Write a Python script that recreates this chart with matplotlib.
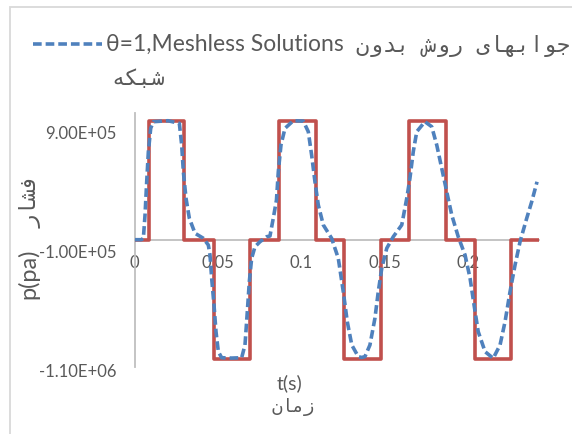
import matplotlib
matplotlib.use("Agg")
import matplotlib.pyplot as plt
from matplotlib.lines import Line2D
from matplotlib.patches import Rectangle
from matplotlib.transforms import ScaledTranslation

# exact (step) solution, time in s, pressure in Pa
t_exact = [0, 0.0086, 0.0298, 0.0478, 0.0692, 0.0866, 0.1086, 0.1256,
           0.1476, 0.1649, 0.1870, 0.2044, 0.2259, 0.2419]
p_exact = [-1e5, 9e5, -1e5, -1.1e6, -1e5, 9e5, -1e5, -1.1e6,
           -1e5, 9e5, -1e5, -1.1e6, -1e5, -1e5]

# meshless solution (theta = 1)
t_mls = [0, 0.0040, 0.0052, 0.0062, 0.0072, 0.0082, 0.0096, 0.0112, 0.0200,
         0.0268, 0.0282, 0.0292, 0.0308, 0.0328, 0.0362, 0.0412, 0.0442,
         0.0452, 0.0462, 0.0476, 0.0488, 0.0502, 0.0522, 0.0582, 0.0642,
         0.0662, 0.0676, 0.0688, 0.0702, 0.0722, 0.0752, 0.0792, 0.0812,
         0.0832, 0.0851, 0.0862, 0.0878, 0.0902, 0.0952, 0.1012, 0.1042,
         0.1062, 0.1082, 0.1102, 0.1132, 0.1182, 0.1222, 0.1252, 0.1276,
         0.1303, 0.1342, 0.1362, 0.1382, 0.1412, 0.1442, 0.1462, 0.1483,
         0.1513, 0.1552, 0.1603, 0.1633, 0.1652, 0.1672, 0.1693, 0.1742,
         0.1783, 0.1813, 0.1843, 0.1873, 0.1903, 0.1942, 0.1983, 0.2013,
         0.2037, 0.2062, 0.2103, 0.2152, 0.2193, 0.2223, 0.2253, 0.2283,
         0.2313, 0.2353, 0.2383, 0.2415]
p_mls = [-1.0e5, -1.0e5, -0.88e5, 1.08e5, 3.87e5, 6.39e5, 8.36e5, 8.92e5, 9.0e5,
         8.78e5, 6.96e5, 4.71e5, 2.48e5, 0.80e5, -0.46e5, -0.88e5, -1.45e5,
         -2.29e5, -4.24e5, -6.49e5, -8.73e5, -10.41e5, -10.92e5, -10.95e5, -10.92e5,
         -9.85e5, -7.05e5, -4.53e5, -2.56e5, -1.59e5, -1.17e5, -0.75e5, -0.69e5,
         0.82e5, 2.34e5, 4.71e5, 6.96e5, 8.36e5, 9.0e5, 8.97e5, 8.08e5,
         6.12e5, 3.87e5, 1.92e5, 0.24e5, -0.88e5, -2.56e5, -5.37e5, -7.89e5,
         -9.85e5, -10.83e5, -10.9e5, -10.83e5, -9.85e5, -7.6e5, -5.37e5, -3.4e5,
         -1.72e5, -0.75e5, 0.24e5, 2.48e5, 4.16e5, 6.39e5, 8.08e5, 8.92e5,
         8.5e5, 6.96e5, 5.0e5, 3.03e5, 1.08e5, -0.75e5, -2.29e5, -4.24e5,
         -6.49e5, -8.73e5, -10.41e5, -10.97e5, -9.85e5, -7.89e5, -5.37e5, -3.13e5,
         -1.17e5, 0.80e5, 2.19e5, 3.87e5]

xticks = [0, 0.05, 0.1, 0.15, 0.2]
xtick_labels = ["0", "0.05", "0.1", "0.15", "0.2"]
yticks = [9e5, -1e5, -1.1e6]
ytick_labels = ["9.00E+05", "-1.00E+05", "-1.10E+06"]

# persian strings written in visual (left to right) order with presentation forms
legend_en = "\u03b8=1,Meshless Solutions"
legend_fa1 = "\ufee5\ufeed\ufeaa\ufe91 \ufeb5\ufeed\ufead \ufeef\ufe8e\ufeec\ufe91\ufe8d\ufeee\ufe9f"
legend_fa2 = "\ufeea\ufedc\ufe92\ufeb7"
xlabel_en = "t(s)"
xlabel_fa = "\ufee5\ufe8e\ufee3\ufeaf"
ylabel_en = "p(pa)"
ylabel_fa = "\ufead\ufe8e\ufeb8\ufed3"

BLUE = "#4F81BD"
RED = "#C0504D"
TXT = "#595959"
AX = "#BFBFBF"
LAT = ["Lato", "DejaVu Sans"]
FA = ["DejaVu Sans Mono", "DejaVu Sans"]
LW = 2.6
DASH = (2.4, 1.1)

W, H = 572, 434
fig = plt.figure(figsize=(W / 100, H / 100), dpi=100)

def fx(px):
    return px / W

def fy(py):
    return 1 - py / H

ax = fig.add_axes([fx(134.7), fy(367), fx(538.7) - fx(134.7), fy(113) - fy(367)])

ax.plot(t_exact, p_exact, color=RED, lw=LW, drawstyle="steps-post", zorder=3)
ax.plot(t_mls, p_mls, color=BLUE, lw=LW, dashes=DASH, zorder=4)

ax.set_xlim(0, 0.2425)
ax.set_ylim(-1.17e6, 9.65e5)

for s in ["top", "right"]:
    ax.spines[s].set_visible(False)
ax.spines["bottom"].set_position(("data", -1e5))
ax.spines["left"].set_color(AX)
ax.spines["bottom"].set_color(AX)
ax.spines["left"].set_linewidth(1.3)
ax.spines["bottom"].set_linewidth(1.3)

ax.set_xticks(xticks)
ax.set_xticklabels(xtick_labels, family=LAT, fontsize=12, color=TXT)
ax.set_yticks(yticks)
ax.set_yticklabels(ytick_labels, family=LAT, fontsize=12, color=TXT)
ax.tick_params(axis="x", length=0, pad=11)
ax.tick_params(axis="y", length=0, pad=13)
ax.patch.set_visible(False)

# excel puts the value labels a bit lower than the ticks
shift = ScaledTranslation(0, -0.12, fig.dpi_scale_trans)
for lab in ax.get_yticklabels():
    lab.set_transform(lab.get_transform() + shift)

# chart border
fig.add_artist(Rectangle((fx(10), -0.1), 1.2, fy(7) + 0.1, transform=fig.transFigure,
                         fill=False, ec="#D9D9D9", lw=1.3))

# legend (only the meshless series)
fig.add_artist(Line2D([fx(33), fx(102)], [fy(44), fy(44)], transform=fig.transFigure,
                      color=BLUE, lw=LW, dashes=DASH))
fig.text(fx(106), fy(51), legend_en, family=LAT, fontsize=16.5, color=TXT,
         ha="left", va="baseline")
fig.text(fx(570), fy(52), legend_fa1, family=FA, fontsize=16, color=TXT,
         ha="right", va="baseline")
fig.text(fx(111), fy(85), legend_fa2, family=FA, fontsize=16, color=TXT,
         ha="left", va="baseline")

# axis titles
fig.text(fx(289.5), fy(383), xlabel_en, family=LAT, fontsize=14, color=TXT,
         ha="center", va="center")
fig.text(fx(293), fy(407), xlabel_fa, family=FA, fontsize=13, color=TXT,
         ha="center", va="center")
fig.text(fx(28), fy(274), ylabel_en, family=LAT, fontsize=17, color=TXT,
         ha="center", va="center", rotation=90)
fig.text(fx(31), fy(201), ylabel_fa, family=FA, fontsize=16, color=TXT,
         ha="center", va="center", rotation=90)

fig.savefig("out.png", dpi=100)
